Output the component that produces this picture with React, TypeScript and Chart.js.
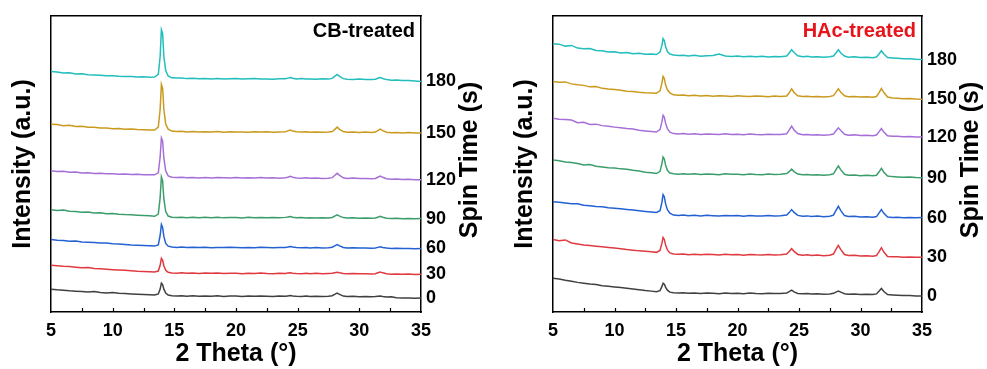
import React, { useEffect, useRef } from "react";
import { Chart, registerables } from "chart.js";

Chart.register(...registerables);

const FONT = "'Liberation Sans', Arial, sans-serif";

// 2θ sampling positions (degrees)
const twoTheta = [
  5, 5.5, 6, 6.5, 7, 7.5, 8, 8.5, 9, 9.5, 10, 10.5, 11, 11.5, 12, 12.5, 13,
  13.4, 13.7, 13.85, 13.95, 14.05, 14.15, 14.3, 14.5, 14.8, 15.2, 15.6,
  16, 16.5, 17, 17.5, 18, 18.5, 19, 19.5, 20, 20.5, 21, 21.5, 22, 22.5, 23, 23.5, 24,
  24.2, 24.4, 24.6, 24.9, 25.3, 25.7, 26, 26.5, 27, 27.5,
  27.8, 28, 28.2, 28.4, 28.7, 29, 29.5, 30, 30.5, 31,
  31.3, 31.5, 31.7, 31.9, 32.2, 32.6, 33, 33.5, 34, 34.5, 35,
];

const spinTimes = ["0", "30", "60", "90", "120", "150", "180"];
const seriesColors = ["#404040", "#e03a40", "#2361d2", "#3b9d6c", "#a66fd8", "#c99a1e", "#22bdbd"];

// CB-treated (offset intensity, a.u.)
const cb0 = [
  23, 22.4, 22.0, 21.3, 21.0, 20.6, 20.2, 20.5, 19.6, 19.2, 19.5, 18.8, 18.5, 18.2, 17.9, 17.6, 17.4,
  17.2, 18.2, 23, 29, 27.5, 23, 19, 17, 16.3, 16.0, 16.4,
  15.9, 16.3, 15.8, 16.2, 15.9, 16.3, 15.7, 16.1, 16.0, 15.7, 16.2, 15.8, 16.1, 15.9, 15.6, 16.0, 15.8,
  16.2, 16.6, 16.1, 15.8, 15.6, 16.0, 15.5, 15.9, 15.6, 15.8,
  16.4, 17.8, 19.0, 17.8, 16.0, 15.6, 15.9, 15.4, 15.7, 15.3,
  15.5, 15.9, 16.2, 15.7, 15.2, 15.3, 14.3, 14.0, 14.2, 13.9, 14.0,
];
const cb30 = [
  47, 46.6, 46.0, 45.8, 45.1, 44.5, 44.7, 43.8, 43.4, 43.0, 42.6, 42.2, 41.9, 41.5, 41.0, 40.8, 40.5,
  40.2, 41.2, 47, 54, 52, 46.5, 42, 40, 39.3, 39.0, 39.4,
  38.9, 39.3, 38.8, 39.2, 38.9, 39.3, 38.7, 39.1, 38.9, 38.6, 39.1, 38.7, 39.2, 38.8, 38.6, 39.0, 38.8,
  39.2, 39.5, 39.1, 38.8, 38.6, 39.0, 38.5, 38.9, 38.6, 38.8,
  39.0, 39.5, 40.0, 39.4, 38.8, 38.5, 38.8, 38.4, 38.6, 38.3,
  38.5, 39.5, 40.3, 39.4, 38.4, 38.1, 38.3, 37.9, 38.2, 37.8, 38.0,
];
const cb60 = [
  73, 72.3, 72.0, 71.2, 71.4, 70.5, 70.2, 69.8, 69.3, 69.5, 68.6, 68.3, 68.0, 67.5, 67.2, 66.9, 66.7,
  66.3, 67.5, 77, 88, 85, 76, 69, 66.2, 65.3, 65.0, 65.4,
  64.9, 65.2, 64.8, 65.1, 64.7, 65.0, 64.8, 65.2, 64.9, 64.6, 65.0, 64.7, 65.1, 64.8, 64.6, 65.0, 64.8,
  65.3, 65.9, 65.3, 64.8, 64.6, 64.9, 64.5, 64.8, 64.5, 64.7,
  65.2, 66.6, 67.8, 66.5, 64.9, 64.4, 64.7, 64.3, 64.5, 64.2,
  64.4, 65.0, 65.6, 65.0, 64.3, 64.0, 64.2, 63.8, 64.0, 63.7, 64.0,
];
const cb90 = [
  103, 102.2, 102.5, 101.3, 101.0, 100.4, 100.6, 99.5, 99.8, 98.9, 99.1, 98.4, 98.0, 97.8, 97.4, 97.1, 96.8,
  96.3, 98.5, 115, 136, 132, 114, 101, 96.5, 95.3, 95.0, 95.4,
  94.9, 95.3, 94.8, 95.2, 94.9, 95.3, 94.7, 95.1, 95.0, 94.6, 95.2, 94.8, 95.0, 94.7, 95.1, 94.9, 95.2,
  95.5, 96.0, 95.4, 94.8, 95.0, 94.6, 94.9, 94.5, 94.8, 94.6,
  95.1, 96.5, 97.8, 96.5, 95.0, 94.5, 94.8, 94.4, 94.6, 94.3,
  94.5, 95.4, 96.2, 95.3, 94.4, 94.1, 94.3, 93.9, 94.1, 93.8, 94.0,
];
const cb120 = [
  142, 141.3, 141.6, 140.5, 140.8, 139.8, 140.2, 139.3, 139.6, 139.0, 139.2, 138.6, 138.9, 138.3, 138.5, 138.1, 138.2,
  138.0, 140, 156, 175, 172, 155, 142, 137, 135.5, 135.2, 135.6,
  135.0, 135.4, 134.9, 135.3, 134.8, 135.2, 135.0, 134.7, 135.3, 134.9, 135.1, 134.7, 135.2, 134.8, 135.0, 134.6, 135.0,
  135.6, 136.5, 135.6, 134.9, 134.6, 135.0, 134.5, 134.8, 134.4, 134.6,
  135.2, 137.3, 139.5, 137.5, 135.0, 134.4, 134.7, 134.2, 134.4, 134.0,
  134.3, 135.6, 136.8, 135.5, 134.0, 133.6, 133.8, 133.3, 133.5, 133.1, 133.0,
];
const cb150 = [
  189, 188.6, 187.5, 187.8, 186.7, 186.9, 185.8, 185.9, 185.2, 185.0, 184.4, 184.6, 183.9, 184.1, 183.5, 183.3, 183.2,
  183.0, 186, 204, 229, 225, 204, 189, 184, 182.0, 181.5, 181.8,
  181.2, 181.6, 181.0, 181.4, 181.1, 181.5, 180.9, 181.3, 181.0, 181.2, 180.8, 181.3, 181.0, 181.4, 180.9, 181.1, 181.4,
  182.2, 183.0, 182.0, 181.3, 181.0, 181.4, 180.8, 181.2, 180.9, 181.1,
  181.6, 183.5, 186.0, 183.8, 181.5, 180.9, 181.2, 180.7, 181.0, 180.6,
  181.0, 182.5, 184.0, 182.4, 180.9, 180.4, 180.7, 180.2, 180.5, 180.1, 180.0,
];
const cb180 = [
  242, 241.5, 240.5, 240.8, 239.5, 239.6, 238.7, 238.4, 238.2, 237.6, 237.8, 237.1, 236.9, 237.0, 236.4, 236.6, 236.2,
  236.3, 239, 257, 284, 280, 257, 243, 237.5, 235.6, 235.3, 235.5,
  234.8, 235.2, 234.6, 235.0, 234.5, 234.9, 234.4, 234.7, 234.8, 234.3, 234.6, 234.9, 234.4, 234.5, 234.2, 234.7, 234.6,
  235.3, 236.0, 235.2, 234.5, 234.8, 234.3, 234.5, 234.1, 234.6, 234.3,
  235.0, 237.0, 239.0, 237.0, 234.8, 234.2, 233.9, 234.3, 233.8, 234.0,
  234.2, 235.2, 236.0, 235.0, 233.8, 233.2, 233.4, 232.8, 232.9, 232.4, 232.0,
];

// HAc-treated (offset intensity, a.u.)
const hac0 = [
  34, 33.2, 32.0, 31.0, 29.8, 29.0, 28.2, 27.6, 26.3, 25.8, 25.2, 24.6, 24.0, 23.2, 22.4, 21.6, 21.0,
  20.4, 21.5, 25.5, 29, 28, 25, 22, 20, 19.3, 19.0, 19.4,
  18.8, 19.2, 18.6, 19.1, 18.8, 18.4, 19.1, 18.7, 18.9, 18.3, 19.0, 18.6, 18.4, 18.9, 18.5, 18.7, 19.2,
  20.5, 22.0, 20.3, 18.7, 18.3, 18.6, 18.0, 18.4, 17.9, 18.2,
  18.8, 20.0, 21.0, 20.0, 18.4, 17.9, 18.2, 17.6, 17.9, 17.5,
  18.2, 20.8, 23.7, 20.6, 17.6, 17.2, 16.9, 16.5, 16.7, 16.2, 16.0,
];
const hac30 = [
  73, 71.8, 72.5, 69.5, 68.5, 67.5, 66.8, 66.2, 65.6, 65.0, 64.3, 63.6, 62.8, 62.2, 61.5, 61.0, 60.5,
  60.0, 62, 69, 75, 73, 67.5, 62.5, 59.5, 58.3, 58.0, 58.4,
  57.7, 58.2, 57.5, 58.1, 57.8, 57.3, 58.0, 57.6, 57.8, 57.2, 57.9, 57.5, 57.3, 57.8, 57.4, 57.6, 58.4,
  60.8, 63.7, 61.0, 57.9, 57.2, 57.5, 56.9, 57.3, 56.7, 57.1,
  58.3, 63.0, 67.0, 62.8, 57.8, 56.8, 57.1, 56.4, 56.7, 56.2,
  56.8, 60.5, 64.7, 60.3, 55.9, 55.5, 55.7, 55.2, 55.4, 55.0, 55.0,
];
const hac60 = [
  111, 110.5, 109.6, 108.8, 109.0, 107.5, 106.8, 106.2, 105.8, 104.9, 104.5, 103.8, 103.2, 102.5, 101.8, 101.2, 100.6,
  100.2, 102, 110, 118, 116, 109, 103, 99.5, 97.5, 97.2, 97.6,
  96.9, 97.4, 96.7, 97.3, 96.9, 96.5, 97.2, 96.8, 97.0, 96.4, 97.1, 96.7, 96.5, 97.0, 96.6, 96.8, 97.6,
  100.0, 103.0, 100.2, 97.2, 96.4, 96.7, 96.1, 96.5, 95.9, 96.3,
  97.4, 102.0, 106.3, 102.0, 97.0, 96.0, 96.3, 95.6, 95.9, 95.4,
  96.0, 99.5, 103.0, 99.3, 95.6, 95.2, 95.4, 94.9, 95.1, 94.7, 95.0,
];
const hac90 = [
  153, 152.2, 151.0, 150.3, 149.5, 147.8, 148.4, 146.6, 146.0, 145.2, 144.8, 144.0, 143.6, 142.5, 141.8, 140.6, 140.0,
  139.3, 141.5, 149, 156, 154, 148, 142.5, 139.8, 139.0, 138.6, 139.2,
  138.5, 139.1, 138.3, 138.9, 138.6, 138.2, 139.0, 138.5, 138.7, 138.1, 138.9, 138.4, 138.2, 138.8, 138.3, 138.6, 139.3,
  141.2, 143.7, 141.3, 138.8, 138.1, 138.4, 137.8, 138.2, 137.6, 138.0,
  139.0, 143.0, 147.0, 143.0, 138.6, 137.6, 137.9, 137.2, 137.5, 137.0,
  137.6, 140.8, 144.5, 140.6, 136.8, 136.2, 135.9, 135.5, 135.7, 135.2, 135.0,
];
const hac120 = [
  195, 194.0, 193.6, 193.2, 190.5, 190.8, 188.7, 189.0, 187.5, 186.8, 186.0, 185.3, 184.5, 184.0, 182.8, 182.2, 181.6,
  181.0, 183.5, 191, 198, 196, 190, 184.5, 181, 179.5, 179.0, 179.5,
  178.8, 179.4, 178.6, 179.2, 178.9, 178.5, 179.3, 178.7, 178.9, 178.4, 179.1, 178.6, 178.3, 178.9, 178.5, 178.7, 179.4,
  183.0, 187.0, 183.2, 179.5, 178.3, 178.6, 178.0, 178.4, 177.9, 178.3,
  179.0, 182.3, 185.3, 182.5, 178.8, 177.9, 178.2, 177.6, 177.9, 177.4,
  178.0, 181.2, 184.6, 181.0, 177.4, 176.8, 176.9, 176.4, 176.6, 176.1, 176.0,
];
const hac150 = [
  232, 231.2, 231.5, 229.5, 228.6, 228.0, 226.5, 226.8, 225.0, 224.3, 223.8, 223.0, 222.2, 221.8, 221.0, 220.6, 220.4,
  220.0, 222.5, 230, 237, 235, 228.5, 223.5, 220.5, 218.5, 218.0, 218.4,
  217.6, 218.0, 217.2, 217.8, 217.0, 217.6, 217.3, 216.8, 217.5, 217.1, 216.7, 217.4, 217.0, 216.6, 217.2, 216.8, 217.3,
  220.5, 224.5, 220.8, 217.6, 216.7, 217.1, 216.5, 216.9, 216.4, 216.8,
  217.7, 221.0, 224.6, 221.0, 217.5, 216.6, 216.9, 216.2, 216.6, 216.0,
  216.8, 220.5, 224.8, 220.8, 216.3, 215.3, 215.0, 214.6, 214.8, 214.2, 214.0,
];
const hac180 = [
  270, 269.5, 267.5, 268.2, 265.5, 264.8, 265.0, 263.0, 262.8, 261.5, 261.9, 260.5, 261.0, 259.8, 260.2, 259.3, 259.6,
  259.0, 261.5, 268, 275, 273, 267, 262, 259.5, 258.5, 258.0, 258.4,
  257.6, 258.2, 257.3, 257.9, 258.0, 259.5, 257.5, 257.0, 257.6, 256.8, 257.3, 256.7, 257.4, 256.6, 257.0, 256.9, 257.5,
  260.5, 263.8, 261.0, 257.8, 256.9, 257.2, 256.5, 256.9, 256.3, 256.7,
  257.5, 260.5, 263.8, 260.5, 257.5, 256.4, 256.8, 256.0, 256.3, 255.8,
  256.5, 259.5, 262.8, 259.5, 256.0, 255.6, 255.2, 254.8, 254.9, 254.3, 254.0,
];

const cbSeries = [cb0, cb30, cb60, cb90, cb120, cb150, cb180];
const hacSeries = [hac0, hac30, hac60, hac90, hac120, hac150, hac180];

type PanelProps = {
  left: number;
  width: number;
  series: number[][];
  title: string;
  titleColor: string;
  leftAxisWidth: number;
  rightAxisWidth: number;
};

function Panel({ left, width, series, title, titleColor, leftAxisWidth, rightAxisWidth }: PanelProps) {
  const ref = useRef<HTMLCanvasElement>(null);

  useEffect(() => {
    const canvas = ref.current;
    if (!canvas) return;

    const framePlugin = {
      id: "frame",
      afterDraw(chart: any) {
        const { ctx, chartArea: a, scales } = chart;
        ctx.save();
        ctx.strokeStyle = "#000";
        ctx.lineWidth = 1.5;
        ctx.beginPath();
        ctx.moveTo(a.left - 0.75, a.top);
        ctx.lineTo(a.right + 0.75, a.top);
        ctx.stroke();
        // inward ticks on the x axis (major + minor)
        ctx.lineWidth = 1.2;
        ctx.beginPath();
        for (let v = 7.5; v < 35; v += 2.5) {
          const px = Math.round(scales.x.getPixelForValue(v)) + 0.5;
          ctx.moveTo(px, a.bottom);
          ctx.lineTo(px, a.bottom - 4);
        }
        ctx.stroke();

        ctx.fillStyle = "#000";
        ctx.font = `bold 25px ${FONT}`;
        ctx.textAlign = "center";
        ctx.textBaseline = "alphabetic";
        ctx.fillText("2 Theta (°)", (a.left + a.right) / 2, 361);

        ctx.save();
        ctx.translate(a.left - 28, (a.top + a.bottom) / 2);
        ctx.rotate(-Math.PI / 2);
        ctx.textBaseline = "middle";
        ctx.fillText("Intensity (a.u.)", 0, 0);
        ctx.restore();

        ctx.save();
        ctx.translate(a.right + 49, 160);
        ctx.rotate(-Math.PI / 2);
        ctx.textBaseline = "middle";
        ctx.fillText("Spin Time (s)", 0, 0);
        ctx.restore();

        ctx.font = `bold 20px ${FONT}`;
        ctx.fillStyle = titleColor;
        ctx.textAlign = "right";
        ctx.textBaseline = "alphabetic";
        ctx.fillText(title, a.right - 6, 37);
        ctx.restore();
      },
    };

    const chart = new Chart(canvas, {
      type: "line",
      data: {
        datasets: series.map((s, i) => ({
          label: spinTimes[i] + " s",
          data: twoTheta.map((x, j) => ({ x, y: s[j] })),
          borderColor: seriesColors[i],
          borderWidth: 1.5,
          pointRadius: 0,
          fill: false,
          tension: 0,
          yAxisID: "y",
        })),
      },
      options: {
        animation: false,
        responsive: false,
        devicePixelRatio: 1,
        layout: { padding: { top: 14, left: 0, right: 0, bottom: 0 } },
        plugins: { legend: { display: false }, tooltip: { enabled: false } },
        scales: {
          x: {
            type: "linear",
            min: 5,
            max: 35,
            ticks: {
              stepSize: 5,
              color: "#000",
              font: { family: FONT, size: 18, weight: "bold" },
              padding: 8,
              maxRotation: 0,
            },
            grid: { display: false, drawTicks: false },
            border: { display: true, color: "#000", width: 1.5 },
            afterFit: (scale: any) => {
              scale.height = 57;
            },
          },
          yl: {
            type: "linear",
            position: "left",
            min: 0,
            max: 298,
            ticks: { display: false },
            grid: { display: false, drawTicks: false },
            border: { display: true, color: "#000", width: 1.5 },
            afterFit: (scale: any) => {
              scale.width = leftAxisWidth;
            },
          },
          y: {
            type: "linear",
            position: "right",
            min: 0,
            max: 298,
            afterBuildTicks: (scale: any) => {
              scale.ticks = series.map((s) => ({ value: s[s.length - 1] }));
            },
            ticks: {
              autoSkip: false,
              color: "#000",
              font: { family: FONT, size: 18, weight: "bold" },
              padding: 5,
              callback: (_v: any, i: number) => spinTimes[i],
            },
            grid: { display: false, drawTicks: false },
            border: { display: true, color: "#000", width: 1.5 },
            afterFit: (scale: any) => {
              scale.width = rightAxisWidth;
            },
          },
        },
      } as any,
      plugins: [framePlugin],
    });

    return () => chart.destroy();
  }, []);

  return (
    <canvas
      ref={ref}
      width={width}
      height={369}
      style={{ position: "absolute", left, top: 0, width, height: 369 }}
    />
  );
}

export default function App() {
  return (
    <div style={{ position: "absolute", left: 0, top: 0, width: 987, height: 369, background: "#fff" }}>
      <Panel
        left={0}
        width={495}
        series={cbSeries}
        title="CB-treated"
        titleColor="#000"
        leftAxisWidth={51}
        rightAxisWidth={74}
      />
      <Panel
        left={495}
        width={492}
        series={hacSeries}
        title="HAc-treated"
        titleColor="#e8141c"
        leftAxisWidth={58}
        rightAxisWidth={65}
      />
    </div>
  );
}
